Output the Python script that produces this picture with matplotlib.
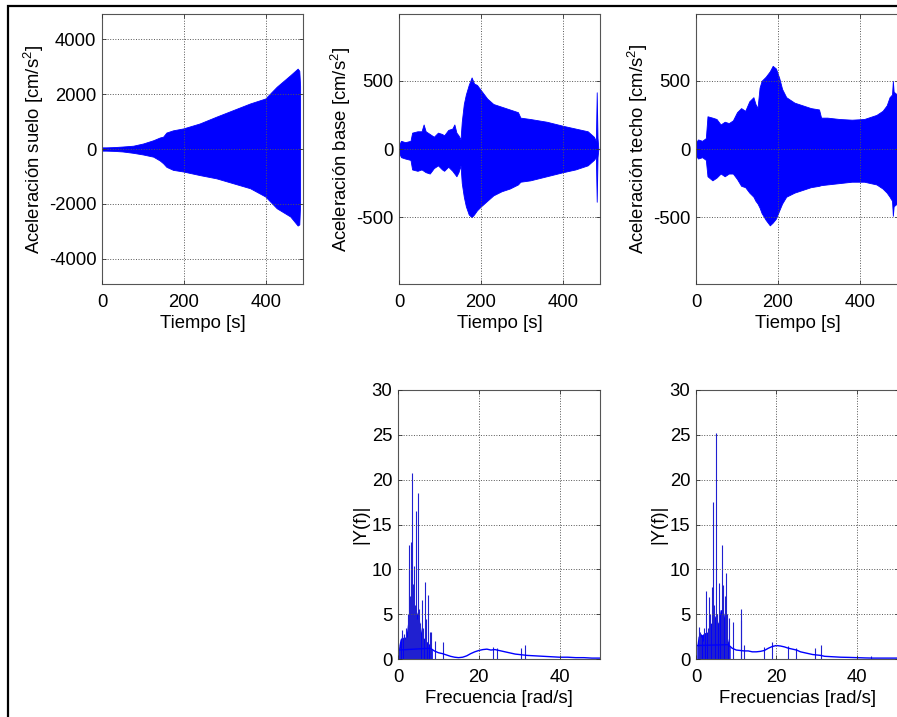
"""
Registros de aceleración (suelo, base, techo) y espectros |Y(f)|.
Estilo tipo MATLAB: rejilla punteada, línea azul, ticks hacia dentro.
"""

import matplotlib
matplotlib.use("Agg")
import matplotlib.pyplot as plt
from matplotlib.patches import Rectangle

plt.rcParams["font.family"] = ["Liberation Sans", "DejaVu Sans"]
plt.rcParams["mathtext.default"] = "regular"
plt.rcParams["font.size"] = 13.3
plt.rcParams["axes.unicode_minus"] = False

BLUE = "#0000ff"

# === Envolventes de aceleración (tiempo [s], cm/s^2) ===
t_suelo = [0, 10, 30, 50, 76, 100, 125, 141, 149, 157, 173, 198, 238, 279,
           320, 361, 398, 426, 459, 477, 481, 483]
up_suelo = [60, 60, 70, 90, 120, 200, 320, 420, 450, 600, 680, 750, 930, 1180,
            1420, 1660, 1840, 2270, 2690, 2930, 2850, 2300]
lo_suelo = [-60, -60, -70, -90, -140, -200, -280, -420, -520, -650, -760, -820,
            -950, -1070, -1250, -1430, -1730, -2160, -2460, -2790, -2750, -2000]

t_base = [0, 5, 15, 28, 32, 45, 55, 60, 65, 75, 85, 95, 105, 110, 120, 130,
          135, 140, 145, 150, 153, 158, 163, 170, 177, 183, 190, 200, 215, 230,
          250, 270, 290, 296, 320, 360, 400, 430, 460, 475, 480, 482, 484, 486]
up_base = [30, 60, 50, 60, 120, 130, 130, 180, 130, 110, 90, 120, 110, 100, 140,
           150, 180, 120, 100, 70, 200, 330, 400, 470, 525, 480, 470, 430, 370,
           330, 310, 290, 270, 230, 220, 200, 170, 150, 130, 90, 60, 416, 80, 0]
lo_base = [-30, -60, -70, -80, -150, -160, -150, -160, -170, -180, -140, -120,
           -150, -160, -130, -160, -180, -200, -170, -120, -250, -350, -420, -480,
           -500, -480, -450, -420, -380, -340, -310, -290, -260, -240, -230, -200,
           -170, -150, -120, -80, -60, -387, -60, 0]

t_techo = [0, 5, 15, 24, 28, 40, 50, 60, 70, 80, 90, 100, 110, 120, 130, 140,
           145, 150, 155, 160, 170, 180, 187, 195, 203, 210, 220, 240, 260, 280,
           300, 305, 320, 350, 380, 410, 440, 455, 465, 472, 478, 480, 482, 490]
up_techo = [50, 70, 60, 80, 240, 230, 220, 180, 200, 190, 210, 270, 300, 280,
            350, 380, 330, 300, 450, 500, 530, 570, 610, 590, 520, 440, 380, 340,
            320, 300, 290, 230, 230, 220, 215, 220, 250, 280, 320, 380, 400, 500,
            420, 400]
lo_techo = [-50, -70, -60, -80, -200, -230, -210, -180, -200, -180, -180, -220,
            -270, -280, -320, -350, -380, -400, -430, -470, -520, -560, -540, -510,
            -450, -400, -350, -320, -300, -280, -270, -265, -260, -250, -240, -240,
            -260, -290, -320, -350, -380, -490, -420, -400]

# === Espectros |Y(f)| (frecuencia [rad/s]) ===
# fondo continuo
f_bg_base = [0, 8, 9, 10, 11, 12, 13, 14, 15, 16, 17, 18, 19, 20, 21, 22, 23,
             24, 25, 26, 27, 28, 29, 30, 32, 34, 36, 38, 40, 42, 44, 46, 48, 50]
v_bg_base = [1.0, 1.2, 0.9, 0.7, 0.6, 0.45, 0.3, 0.2, 0.15, 0.2, 0.35, 0.6, 0.8,
             0.95, 1.05, 1.1, 1.0, 1.05, 0.95, 0.85, 0.75, 0.65, 0.55, 0.5, 0.4,
             0.35, 0.3, 0.25, 0.2, 0.2, 0.15, 0.15, 0.1, 0.1]
# banda densa de baja frecuencia
f_band_base = [0.2, 0.5, 1, 1.5, 2, 2.5, 3, 3.3, 3.5, 3.8, 4.2, 4.6, 5, 5.4, 6,
               6.5, 7, 7.5, 8, 8.5]
v_band_base = [1.5, 2.2, 2.5, 2.3, 2.6, 4.5, 5.5, 7.5, 7.8, 6.5, 5.5, 5, 5.5, 4,
               2.5, 2.3, 2, 1.8, 1.5, 1.0]
# picos
f_pk_base = [0.3, 0.6, 0.9, 1.1, 1.4, 1.7, 1.9, 2.2, 2.4, 2.64, 2.8, 3.0, 3.3,
             3.47, 3.6, 3.9, 4.1, 4.4, 4.6, 4.96, 5.2, 5.5, 5.9, 6.2, 6.7, 7.0,
             7.5, 7.8, 8.1, 9.2, 11.2, 23.5, 24.5, 30.4, 31.4]
v_pk_base = [1.3, 1.2, 2.6, 3.2, 2.8, 2.2, 3.5, 2.5, 5, 12.7, 9.9, 7, 13.0, 20.7,
             8.4, 10.4, 6, 16.5, 4.5, 18.5, 5.6, 4, 6.6, 3.5, 8.6, 4.5, 7.1, 3,
             3, 2, 1.9, 1.3, 1.2, 1.2, 1.6]

f_bg_techo = [0, 8, 9, 10, 11, 12, 13, 14, 15, 16, 17, 18, 19, 20, 21, 22, 23,
              24, 25, 26, 27, 28, 29, 30, 31, 32, 34, 36, 38, 40, 42, 44, 46, 48, 50]
v_bg_techo = [1.5, 1.6, 1.2, 1.0, 0.95, 0.9, 0.9, 0.8, 0.8, 0.85, 0.95, 1.2, 1.4,
              1.5, 1.45, 1.35, 1.2, 1.1, 1.0, 0.8, 0.7, 0.6, 0.5, 0.45, 0.4, 0.3,
              0.25, 0.2, 0.18, 0.15, 0.12, 0.1, 0.1, 0.1, 0.1]
f_band_techo = [0.2, 0.5, 1, 1.5, 2, 2.5, 3, 3.5, 4, 4.5, 5, 5.5, 6, 6.5, 7, 7.5,
                8, 8.5]
v_band_techo = [1.5, 2.5, 2.9, 2.7, 2.9, 3, 3, 4, 4, 5, 4.5, 4, 5.5, 5.5, 5, 3,
                2, 1.3]
f_pk_techo = [0.4, 0.7, 1.0, 1.3, 1.7, 2.1, 2.5, 2.9, 3.33, 3.6, 3.9, 4.33, 4.6,
              5.0, 5.3, 5.8, 6.1, 6.5, 6.8, 7.2, 7.5, 7.8, 8.2, 9.1, 11.1, 11.3,
              12, 17, 19, 23, 25, 29.5, 31, 43.5]
v_pk_techo = [1.5, 3.6, 3.0, 2.5, 2, 3.5, 7.6, 3.5, 6.9, 5, 8.0, 17.5, 6, 25.2, 5,
              8.5, 5, 12.7, 8.3, 7, 9.6, 5, 4.6, 4.1, 5.6, 4.3, 1.6, 1.3, 1.9, 1.4,
              1.2, 1.2, 1.6, 0.3]


W, H = 897, 717


def px_axes(fig, x0, y0, x1, y1):
    """Ejes a partir de coordenadas en píxeles (origen arriba-izquierda)."""
    return fig.add_axes([x0 / W, 1 - y1 / H, (x1 - x0) / W, (y1 - y0) / H])


def matlab_style(ax):
    ax.grid(True, linestyle=":", color="#555555", linewidth=0.7)
    ax.tick_params(direction="in", length=3, top=True, right=True,
                   width=0.6, colors="#333333", labelcolor="black", pad=4)
    ax.tick_params(axis="x", pad=7)
    for sp in ax.spines.values():
        sp.set_color("#555555")
        sp.set_linewidth(0.8)
    ax.xaxis.labelpad = 3
    ax.yaxis.labelpad = 2
    ax.set_axisbelow(False)


def serie(ax, t, up, lo, label, ylim, yticks):
    ax.fill_between(t, lo, up, color=BLUE, linewidth=0.6, edgecolor=BLUE)
    ax.set_xlim(0, 490)
    ax.set_ylim(-ylim, ylim)
    ax.set_xticks([0, 200, 400])
    ax.set_yticks(yticks)
    ax.set_xlabel("Tiempo [s]")
    ax.set_ylabel(label)
    matlab_style(ax)


def espectro(ax, f_bg, v_bg, f_band, v_band, f_pk, v_pk, xlabel):
    ax.fill_between(f_band, 0, v_band, color=BLUE, linewidth=0)
    ax.vlines(f_pk, 0, v_pk, color="#2020d0", linewidth=0.8)
    ax.plot(f_bg, v_bg, color=BLUE, linewidth=1.0)
    ax.set_xlim(0, 50)
    ax.set_ylim(0, 30)
    ax.set_xticks([0, 20, 40])
    ax.set_yticks(range(0, 31, 5))
    ax.set_xlabel(xlabel)
    ax.set_ylabel("|Y(f)|")
    matlab_style(ax)


fig = plt.figure(figsize=(W / 100, H / 100), dpi=100)

ax1 = px_axes(fig, 102, 14, 303, 284)
serie(ax1, t_suelo, up_suelo, lo_suelo, r"Aceleración suelo [cm/s$^2$]",
      4920, [-4000, -2000, 0, 2000, 4000])

ax2 = px_axes(fig, 399, 14, 600, 284)
serie(ax2, t_base, up_base, lo_base, r"Aceleración base [cm/s$^2$]",
      990, [-500, 0, 500])

ax3 = px_axes(fig, 696, 14, 899, 284)
serie(ax3, t_techo, up_techo, lo_techo, r"Aceleración techo [cm/s$^2$]",
      990, [-500, 0, 500])
ax3.set_xlim(0, 495)

ax4 = px_axes(fig, 398, 390, 600, 659)
espectro(ax4, f_bg_base, v_bg_base, f_band_base, v_band_base,
         f_pk_base, v_pk_base, "Frecuencia [rad/s]")

ax5 = px_axes(fig, 696, 390, 899, 659)
espectro(ax5, f_bg_techo, v_bg_techo, f_band_techo, v_band_techo,
         f_pk_techo, v_pk_techo, "Frecuencias [rad/s]")
ax5.set_xlim(0, 50.5)

# marco negro de la captura
fig.patches.append(Rectangle((8 / W, -0.1), 1.2, 1.1 - 6 / H,
                             transform=fig.transFigure, fill=False,
                             edgecolor="black", linewidth=1.6))

fig.savefig("out.png", dpi=100)
